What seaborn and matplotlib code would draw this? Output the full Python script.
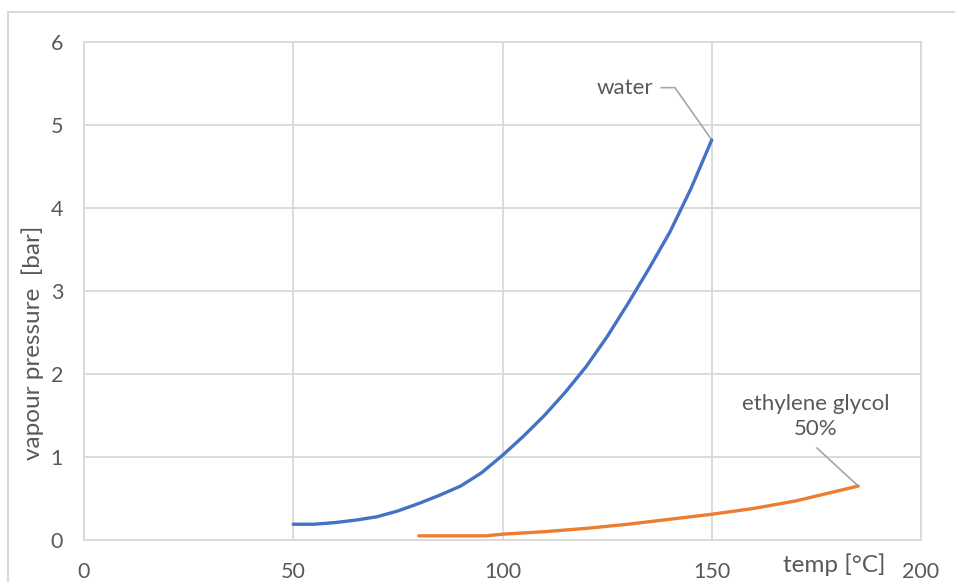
import matplotlib
matplotlib.use("Agg")
import matplotlib.pyplot as plt
from matplotlib.patches import Rectangle
import pandas as pd
import seaborn as sns

# Vapour pressure of water [bar] over temperature [°C]
temp_water = [50, 55, 60, 65, 70, 75, 80, 85, 90, 95, 100,
              105, 110, 115, 120, 125, 130, 135, 140, 145, 150]
p_water = [0.19, 0.19, 0.21, 0.24, 0.28, 0.35, 0.44, 0.54, 0.65, 0.81, 1.02,
           1.25, 1.50, 1.78, 2.09, 2.45, 2.85, 3.27, 3.71, 4.23, 4.82]

# Vapour pressure of 50% ethylene glycol solution [bar]
temp_glycol = [80, 90, 96, 100, 110, 120, 130, 140, 150, 160, 170, 180, 185]
p_glycol = [0.05, 0.05, 0.05, 0.07, 0.10, 0.14, 0.19, 0.25, 0.31, 0.38, 0.47, 0.59, 0.65]

series_names = ["water", "ethylene glycol\n50%"]
series_colors = ["#4472C4", "#ED7D31"]

x_ticks = [0, 50, 100, 150, 200]
y_ticks = [0, 1, 2, 3, 4, 5, 6]

x_label = "temp [°C]"
y_label = "vapour pressure  [bar]"

df = pd.concat([
    pd.DataFrame({"temp": temp_water, "pressure": p_water, "series": series_names[0]}),
    pd.DataFrame({"temp": temp_glycol, "pressure": p_glycol, "series": series_names[1]}),
], ignore_index=True)

sns.set_theme(style="white")
plt.rcParams["font.family"] = ["Lato", "DejaVu Sans"]

text_color = "#595959"
grid_color = "#d9d9d9"
leader_color = "#a6a6a6"

fig = plt.figure(figsize=(9.55, 5.82), dpi=100)
fig.patch.set_facecolor("white")

# chart-area frame
fig.add_artist(Rectangle((8 / 955, -0.1), 1.0, (582 - 12) / 582 + 0.1,
                         transform=fig.transFigure, fill=False,
                         edgecolor=grid_color, linewidth=1.5, clip_on=False))

ax = fig.add_axes([84 / 955, 42 / 582, 837 / 955, 498 / 582])

sns.lineplot(data=df, x="temp", y="pressure", hue="series",
             palette=dict(zip(series_names, series_colors)),
             linewidth=2.4, legend=False, sort=False, ax=ax, zorder=3,
             solid_joinstyle="round", solid_capstyle="round")

ax.set_xlim(x_ticks[0], x_ticks[-1])
ax.set_ylim(y_ticks[0], y_ticks[-1])
ax.set_xticks(x_ticks)
ax.set_yticks(y_ticks)
ax.grid(True, color=grid_color, linewidth=1.3)
ax.set_axisbelow(True)
for sp in ax.spines.values():
    sp.set_color(grid_color)
    sp.set_linewidth(1.3)

ax.tick_params(axis="both", length=0, labelcolor=text_color, labelsize=15.5)
ax.tick_params(axis="x", pad=16)
ax.tick_params(axis="y", pad=15)

ax.set_xlabel(x_label, color=text_color, fontsize=17.5)
ax.xaxis.set_label_coords((834 - 84) / 837, (540 - 565) / 498)
ax.xaxis.label.set_verticalalignment("center")
ax.set_ylabel(y_label, color=text_color, fontsize=17.5)
ax.yaxis.set_label_coords((33 - 84) / 837, (540 - 343) / 498)
ax.yaxis.label.set_verticalalignment("center")

# series labels with leader lines
ax.plot([137.9, 141.2, temp_water[-1]], [5.45, 5.45, p_water[-1]],
        color=leader_color, linewidth=1.2, zorder=2, clip_on=False)
ax.text(129.3, 5.44, series_names[0], color=text_color, fontsize=16,
        ha="center", va="center")

ax.plot([175.1, temp_glycol[-1]], [1.11, p_glycol[-1]],
        color=leader_color, linewidth=1.2, zorder=2, clip_on=False)
ax.text(174.9, 1.485, series_names[1], color=text_color, fontsize=16,
        ha="center", va="center", linespacing=1.3)

fig.savefig("out.png", dpi=100, facecolor="white")
